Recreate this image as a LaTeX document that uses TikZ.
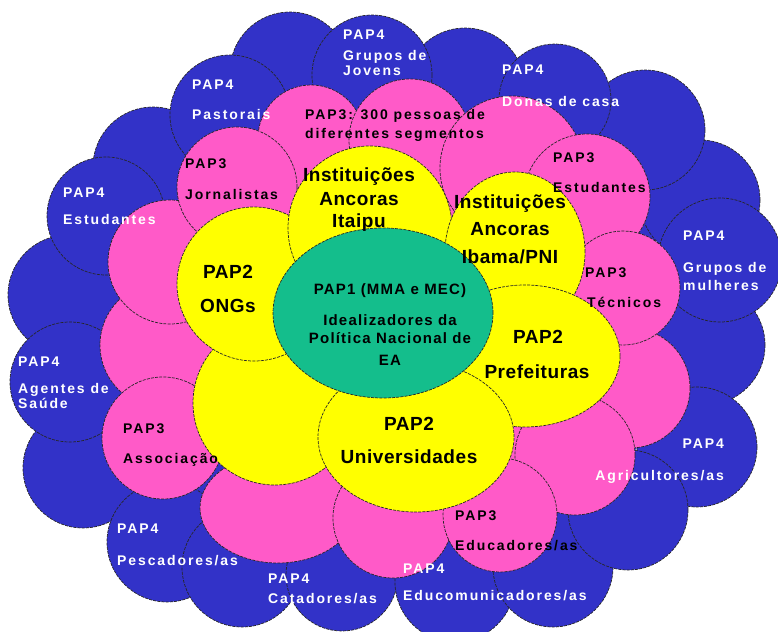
\documentclass[tikz,border=0pt]{standalone}
\usepackage{fontspec}
\usetikzlibrary{shapes.geometric}
\newfontfamily\papfont[LetterSpace=13.5]{Liberation Sans}
\newfontfamily\bigfont[LetterSpace=3]{Liberation Sans}
\newfontfamily\midfont[LetterSpace=8]{Liberation Sans}
\definecolor{pblue}{RGB}{50,50,200}
\definecolor{ppink}{RGB}{255,90,200}
\definecolor{pyellow}{RGB}{255,255,0}
\definecolor{pgreen}{RGB}{20,190,140}
\tikzset{
  petal/.style={ellipse,inner sep=0pt,draw=black!85,line width=0.7pt,dash pattern=on 3pt off 1.2pt},
  ring4/.style={petal,fill=pblue},
  ring3/.style={petal,fill=ppink},
  ring2/.style={petal,fill=pyellow},
  core/.style={petal,fill=pgreen},
  lab4/.style={text=white,font=\papfont\bfseries\fontsize{14}{14}\selectfont,inner sep=0pt,anchor=base west},
  lab3/.style={lab4,text=black},
  lab2/.style={text=black,font=\bigfont\bfseries\fontsize{19}{19}\selectfont,inner sep=0pt,anchor=base},
  lab1/.style={text=black,font=\midfont\bfseries\fontsize{15}{15}\selectfont,inner sep=0pt,anchor=base}
}
\begin{document}
\begin{tikzpicture}[x=1pt,y=-1pt]
  \useasboundingbox (0,0) rectangle (778,631);
  \clip (0,0) rectangle (778,631);

  % filling behind the rings
  \node[ellipse,fill=pblue,minimum width=570pt,minimum height=450pt] (bg4) at (394,330) {};
  \node[ellipse,fill=ppink,minimum width=430pt,minimum height=330pt] (bg3) at (395,330) {};

  % PAP4 ring
  \node[ring4,minimum size=120pt] (o16) at (83,468)  {};
  \node[ring4,minimum size=120pt] (o18) at (68,295)  {};
  \node[ring4,minimum size=120pt] (o20) at (153,167) {};
  \node[ring4,minimum size=120pt] (o1)  at (290,72)  {};
  \node[ring4,minimum size=120pt] (o3)  at (465,88)  {};
  \node[ring4,minimum size=120pt] (o6)  at (700,200) {};
  \node[ring4,minimum size=120pt] (o5)  at (645,130) {};
  \node[ring4,minimum size=120pt] (o8)  at (705,345) {};
  \node[ring4,minimum size=118pt] (o19) at (106,216) {};
  \node[ring4,minimum size=120pt] (o17) at (70,382)  {};
  \node[ring4,minimum size=120pt] (o21) at (230,115) {};
  \node[ring4,minimum size=120pt] (o2)  at (372,75)  {};
  \node[ring4,minimum size=112pt] (o4)  at (555,100) {};
  \node[ring4,minimum size=124pt] (o7)  at (720,260) {};
  \node[ring4,minimum size=120pt] (o9)  at (697,447) {};
  \node[ring4,minimum size=120pt] (o15) at (167,542) {};
  \node[ring4,minimum size=120pt] (o14) at (242,567) {};
  \node[ring4,minimum size=112pt] (o13) at (342,575) {};
  \node[ring4,minimum size=120pt] (o12) at (455,582) {};
  \node[ring4,minimum size=120pt] (o11) at (553,567) {};
  \node[ring4,minimum size=120pt] (o10) at (628,510) {};

  % PAP3 ring
  \node[ring3,minimum size=126pt] (m12) at (163,345) {};
  \node[ring3,minimum size=124pt] (m13) at (170,262) {};
  \node[ring3,minimum width=156pt,minimum height=110pt] (m10) at (278,508) {};
  \node[ring3,minimum size=120pt] (m9)  at (393,518) {};
  \node[ring3,minimum size=120pt] (m6)  at (630,388) {};
  \node[ring3,minimum size=120pt] (m7)  at (575,455) {};
  \node[ring3,minimum size=106pt] (m1)  at (311,138) {};
  \node[ring3,minimum size=122pt] (m2)  at (410,140) {};
  \node[ring3,minimum size=144pt] (m3)  at (512,168) {};
  \node[ring3,minimum size=120pt] (m14) at (237,187) {};
  \node[ring3,minimum size=126pt] (m4)  at (587,197) {};
  \node[ring3,minimum size=114pt] (m5)  at (623,288) {};
  \node[ring3,minimum size=122pt] (m11) at (163,438) {};
  \node[ring3,minimum size=114pt] (m8)  at (500,515) {};

  % PAP2 ring
  \node[ring2,minimum size=164pt] (i4) at (275,403) {};
  \node[ring2,minimum size=154pt] (i3) at (254,284) {};
  \node[ring2,minimum size=164pt] (i1) at (370,228) {};
  \node[ring2,minimum width=140pt,minimum height=160pt] (i2) at (515,252) {};
  \node[ring2,minimum width=190pt,minimum height=142pt] (i6) at (525,356) {};
  \node[ring2,minimum width=196pt,minimum height=150pt] (i5) at (416,437) {};

  % PAP1
  \node[core,minimum width=220pt,minimum height=170pt] (c) at (383,313) {};

  % texts PAP4
  \node[lab4] (o2-1) at (343,40) {PAP4};
  \node[lab4] (o2-2) at (343,61) {Grupos de};
  \node[lab4] (o2-3) at (343,76) {Jovens};
  \node[lab4] (o21-1) at (192,90) {PAP4};
  \node[lab4] (o21-2) at (192,120) {Pastorais};
  \node[lab4] (o4-1) at (502,75) {PAP4};
  \node[lab4] (o4-2) at (502,107) {Donas de casa};
  \node[lab4] (o19-1) at (63,197) {PAP4};
  \node[lab4] (o19-2) at (63,224) {Estudantes};
  \node[lab4] (o7-1) at (683,240) {PAP4};
  \node[lab4] (o7-2) at (683,272) {Grupos de};
  \node[lab4] (o7-3) at (683,290) {mulheres};
  \node[lab4] (o17-1) at (18,366) {PAP4};
  \node[lab4] (o17-2) at (18,393) {Agentes de};
  \node[lab4] (o17-3) at (18,408) {Saúde};
  \node[lab4,anchor=base east] (o9-1) at (724,448) {PAP4};
  \node[lab4,anchor=base east] (o9-2) at (724,480) {Agricultores/as};
  \node[lab4] (o15-1) at (117,533) {PAP4};
  \node[lab4] (o15-2) at (117,565) {Pescadores/as};
  \node[lab4] (o13-1) at (268,583) {PAP4};
  \node[lab4] (o13-2) at (268,603) {Catadores/as};
  \node[lab4] (o12-1) at (403,573) {PAP4};
  \node[lab4] (o12-2) at (403,600) {Educomunicadores/as};

  % texts PAP3
  \node[lab3] (m2-1) at (305,120) {PAP3: 300 pessoas de};
  \node[lab3] (m2-2) at (305,139) {diferentes segmentos};
  \node[lab3] (m14-1) at (185,168) {PAP3};
  \node[lab3] (m14-2) at (185,199) {Jornalistas};
  \node[lab3] (m4-1) at (553,163) {PAP3};
  \node[lab3] (m4-2) at (553,193) {Estudantes};
  \node[lab3] (m5-1) at (585,277) {PAP3};
  \node[lab3] (m5-2) at (587,307) {Técnicos};
  \node[lab3] (m11-1) at (123,433) {PAP3};
  \node[lab3] (m11-2) at (123,463) {Associação};
  \node[lab3] (m8-1) at (455,520) {PAP3};
  \node[lab3] (m8-2) at (455,550) {Educadores/as};

  % texts PAP2
  \node[lab2] (i1-1) at (359,182) {Instituições};
  \node[lab2] (i1-2) at (359,205) {Ancoras};
  \node[lab2] (i1-3) at (359,227) {Itaipu};
  \node[lab2] (i2-1) at (510,208) {Instituições};
  \node[lab2] (i2-2) at (510,235) {Ancoras};
  \node[lab2] (i2-3) at (510,263) {Ibama/PNI};
  \node[lab2] (i3-1) at (228,278) {PAP2};
  \node[lab2] (i3-2) at (228,312) {ONGs};
  \node[lab2] (i6-1) at (538,343) {PAP2};
  \node[lab2] (i6-2) at (537,378) {Prefeituras};
  \node[lab2] (i5-1) at (409,430) {PAP2};
  \node[lab2] (i5-2) at (409,463) {Universidades};

  % texts PAP1
  \node[lab1] (c-1) at (390,294) {PAP1 (MMA e MEC)};
  \node[lab1] (c-2) at (390,325) {Idealizadores da};
  \node[lab1] (c-3) at (390,343) {Política Nacional de};
  \node[lab1] (c-4) at (390,365) {EA};
\end{tikzpicture}
\end{document}
